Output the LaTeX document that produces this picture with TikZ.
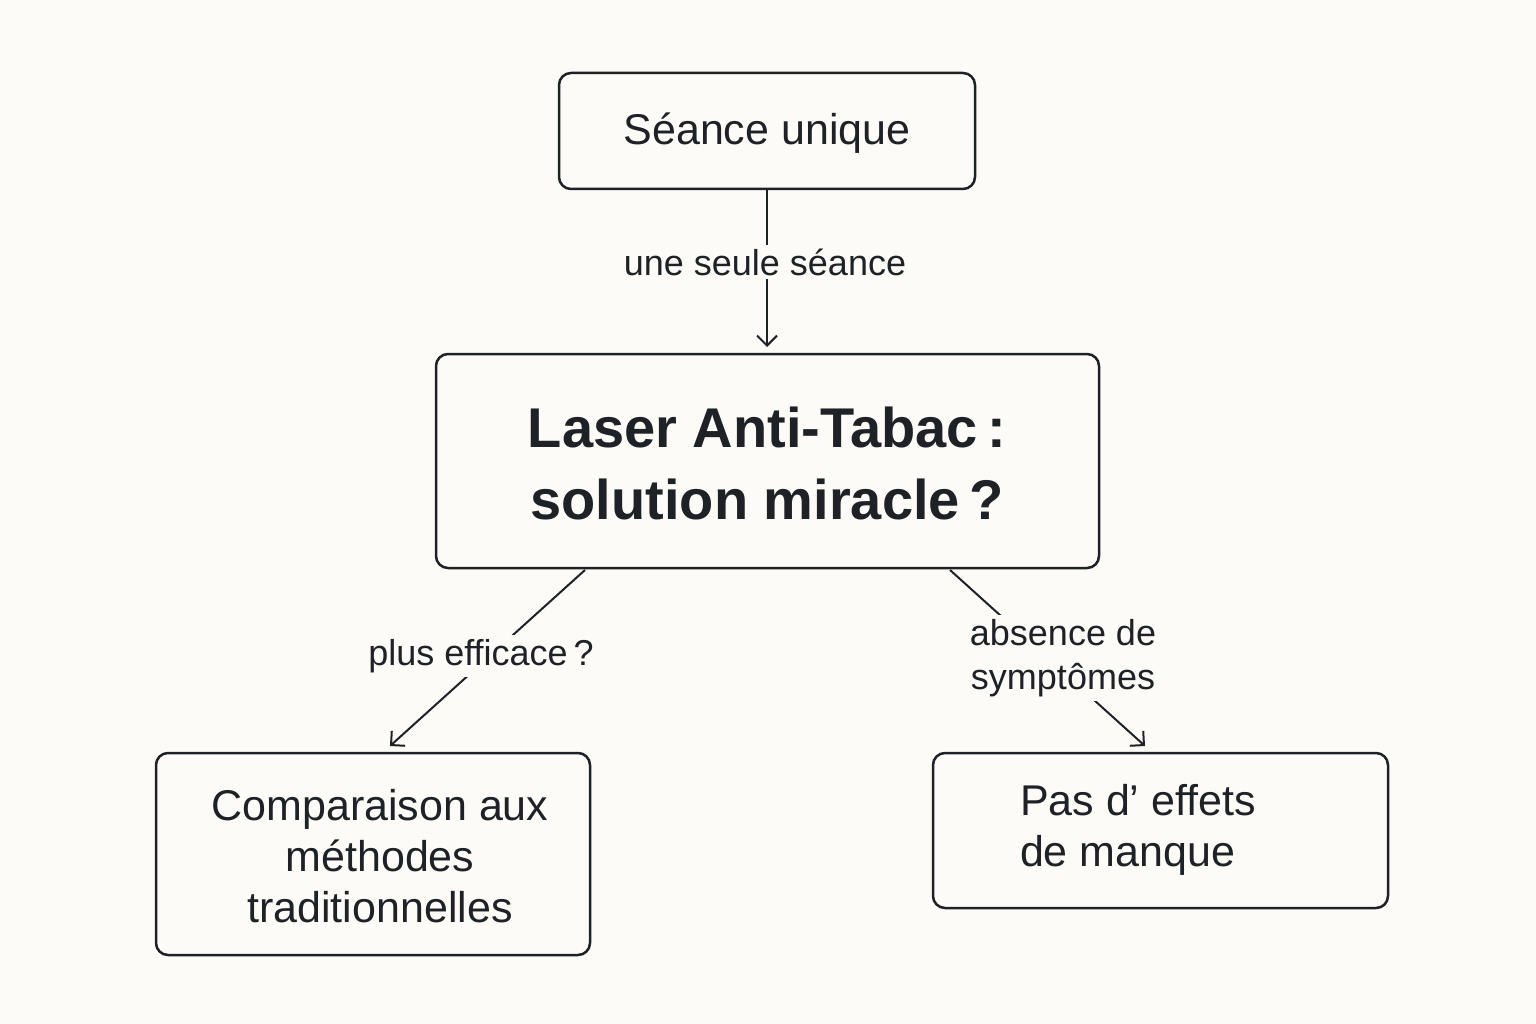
\documentclass[tikz,border=0pt]{standalone}
\usepackage{fontspec}
\setmainfont{Liberation Sans}
\usetikzlibrary{arrows.meta}
\definecolor{bg}{HTML}{FCFBF7}
\definecolor{ink}{HTML}{1E2226}
\begin{document}
\begin{tikzpicture}[x=1pt,y=-1pt,
  box/.style={draw=ink,line width=2.5pt,rounded corners=12pt,fill=bg},
  lbl/.style={fill=bg,text=ink,font=\fontsize{36}{42}\selectfont,inner sep=4pt,align=center},
  conn/.style={draw=ink,line width=2pt,-{Straight Barb[length=10pt,width=20pt,line width=2pt]}}]
\fill[bg] (0,0) rectangle (1536,1024);
\useasboundingbox (0,0) rectangle (1536,1024);
\draw[box] (559,73) rectangle (975,189);
\node[text=ink,font=\fontsize{43}{50}\selectfont] (top) at (767,133) {Séance unique};
\coordinate (topb) at (767,189);
\draw[box] (436,354) rectangle (1099,568);
\node[text=ink,font=\bfseries\fontsize{56}{72}\selectfont,align=center] (mid) at (767,463) {Laser Anti-Tabac\,:\\solution miracle\,?};
\coordinate (midt) at (767,347);
\coordinate (midl) at (585,570);
\coordinate (midr) at (950,570);
\draw[box] (156,753) rectangle (590,955);
\node[text=ink,font=\fontsize{43}{51}\selectfont,align=center] (left) at (380,856) {Comparaison aux\\méthodes\\traditionnelles};
\coordinate (leftt) at (390,746);
\draw[box] (933,753) rectangle (1388,908);
\node[text=ink,font=\fontsize{43}{51}\selectfont,align=left] (right) at (1138,830) {Pas d' effets\\de manque};
\coordinate (rightt) at (1145,746);
\draw[conn] (topb) -- (midt);
\draw[conn] (midl) -- (leftt);
\draw[conn] (midr) -- (rightt);
\node[lbl] (l1) at (765,262) {une seule séance};
\node[lbl] (l2) at (481,656) {plus efficace\,?};
\node[lbl,font=\fontsize{36}{44}\selectfont] (l3) at (1063,658) {absence de\\symptômes};
\end{tikzpicture}
\end{document}
